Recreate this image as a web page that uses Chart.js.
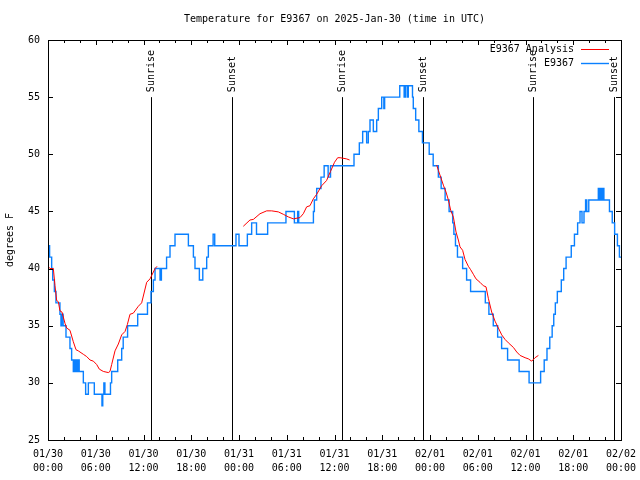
<!DOCTYPE html>
<html>
<head>
<meta charset="utf-8">
<title>Temperature for E9367</title>
<script src="https://cdn.jsdelivr.net/npm/chart.js@4/dist/chart.umd.min.js"></script>
<style>
  html, body { margin: 0; padding: 0; background: #fff; }
  canvas { display: block; }
</style>
</head>
<body>
<canvas id="tempChart" width="640" height="480"></canvas>
<script>
const titleText = "Temperature for E9367 on 2025-Jan-30 (time in UTC)";

// x labels, one per 6 hours (hours since 01/30 00:00 UTC)
const tickDates = ["01/30", "01/30", "01/30", "01/30", "01/31", "01/31", "01/31", "01/31", "02/01", "02/01", "02/01", "02/01", "02/02"];
const tickTimes = ["00:00", "06:00", "12:00", "18:00", "00:00", "06:00", "12:00", "18:00", "00:00", "06:00", "12:00", "18:00", "00:00"];

// station obs: hour where the reading changes, and the new reading (F)
const obsHours = [
  0.00, 0.20, 0.46, 0.59, 0.80, 1.00, 1.50, 1.63, 1.72, 1.90, 2.26, 2.76, 2.97, 3.18, 3.30, 3.42,
  3.55, 3.68, 3.80, 3.92, 4.44, 4.73, 5.07, 5.82, 6.78, 6.88, 7.02, 7.15, 7.85, 8.00, 8.76, 9.26,
  9.45, 10.00, 11.27, 12.50, 12.94, 13.24, 13.45, 14.08, 14.25, 14.90, 15.33, 15.96, 17.64, 18.27,
  18.47, 19.02, 19.45, 19.94, 20.15, 20.75, 20.95, 23.62, 24.00, 25.05, 25.59, 26.20, 27.60, 29.90,
  30.96, 31.37, 31.50, 33.35, 33.47, 33.76, 34.30, 34.70, 35.20, 35.50, 38.45, 39.12, 39.54, 40.04,
  40.25, 40.46, 40.88, 41.30, 41.51, 41.93, 42.20, 42.30, 44.20, 44.75, 44.92, 45.15, 45.27, 45.80,
  45.90, 46.20, 46.60, 47.05, 47.90, 48.40, 49.05, 49.40, 49.90, 50.40, 50.85, 51.00, 51.20, 51.45,
  52.10, 52.60, 53.10, 54.95, 55.40, 55.95, 56.50, 57.00, 57.75, 59.20, 60.45, 61.90, 62.35, 62.70,
  63.05, 63.35, 63.55, 63.75, 64.00, 64.50, 64.80, 65.10, 65.75, 66.15, 66.55, 66.85, 67.10, 67.35,
  67.55, 67.70, 67.95, 69.15, 69.28, 69.45, 69.58, 69.68, 69.85, 70.55, 70.90, 71.20, 71.55, 71.80,
  72.00
];
const obsTemps = [
  42, 41, 40, 39, 38, 37, 36, 35, 36, 35, 34, 33, 32, 31, 32, 31,
  32, 31, 32, 31, 30, 29, 30, 29, 28, 29, 30, 29, 30, 31, 32, 33,
  34, 35, 36, 37, 38, 39, 40, 39, 40, 41, 42, 43, 42, 41,
  40, 39, 40, 41, 42, 43, 42, 43, 42, 43, 44, 43, 44, 45,
  44, 45, 44, 45, 46, 47, 48, 49, 48, 49, 50, 51, 52, 51,
  52, 53, 52, 53, 54, 55, 54, 55, 56, 55, 56, 55, 56, 55,
  54, 53, 52, 51, 50, 49, 48, 47, 46, 45, 44, 43, 42, 41,
  40, 39, 38, 37, 36, 35, 34, 33, 32, 31, 30, 31, 32, 33,
  34, 35, 36, 37, 38, 39, 40, 41, 42, 43, 44, 45, 44, 45,
  46, 45, 46, 47, 46, 47, 46, 47, 46, 45, 44, 43, 42, 41,
  41
];

// analysis series, null = no analysis (gap)
const anaHours = [
  0.00, 0.25, 0.67, 0.88, 1.09, 1.30, 1.50, 1.75, 2.14, 2.35, 2.76, 3.18, 3.52, 3.80, 4.44, 4.86,
  5.28, 5.70, 6.12, 6.45, 6.95, 7.58, 7.79, 8.00, 8.42, 8.84, 9.26, 9.68, 9.97, 10.30, 10.72, 11.35,
  11.77, 11.98, 12.40, 12.82, 13.03, 13.45, 13.70,
  19.00,
  24.54, 25.00, 25.38, 25.80, 26.64, 27.48, 28.10, 28.94, 29.57, 30.20, 30.83, 31.66, 32.08, 32.50,
  32.92, 33.34, 33.76, 34.39, 35.00, 35.50, 36.00, 36.40, 36.70, 37.50, 37.90,
  43.00,
  48.84, 49.05, 49.34, 49.68, 50.01, 50.31, 50.60, 50.94, 51.27, 51.56, 51.77, 52.10, 52.40, 52.82,
  53.11, 53.45, 53.78, 54.28, 54.70, 55.04, 55.33, 55.75, 56.17, 56.59, 57.01, 57.43, 57.85, 58.48,
  58.90, 59.32, 59.95, 60.36, 60.78, 61.20, 61.62
];
const anaTemps = [
  40.2, 40.0, 40.0, 38.5, 37.2, 37.1, 36.3, 36.2, 35.2, 34.8, 34.6, 33.6, 32.9, 32.8, 32.5, 32.3,
  32.0, 31.9, 31.6, 31.2, 31.0, 30.9, 31.0, 31.6, 32.8, 33.4, 34.2, 34.5, 35.1, 36.0, 36.1, 36.7,
  37.0, 37.6, 38.8, 39.1, 39.4, 40.0, 40.2,
  null,
  43.7, 44.0, 44.25, 44.3, 44.8, 45.05, 45.05, 44.96, 44.75, 44.52, 44.35, 44.46, 44.8, 45.4,
  45.5, 46.1, 46.5, 47.25, 47.7, 48.5, 49.3, 49.7, 49.7, 49.6, 49.5,
  null,
  49.06, 48.6, 48.0, 47.3, 46.7, 46.0, 45.1, 44.5, 43.2, 42.5, 41.9, 41.6, 40.8, 40.2,
  39.9, 39.5, 39.1, 38.8, 38.5, 38.4, 37.4, 36.2, 35.4, 34.8, 34.2, 33.8, 33.5, 33.1,
  32.7, 32.4, 32.2, 32.1, 31.9, 32.2, 32.4
];

// sunrise / sunset markers
const eventNames = ["Sunrise", "Sunset", "Sunrise", "Sunset", "Sunrise", "Sunset"];
const eventHours = [12.98, 23.08, 37.0, 47.15, 60.98, 71.17];

const FONT = '"DejaVu Sans Mono", "Liberation Mono", monospace';
const font10 = { family: FONT, size: 10, lineHeight: 1.4 };

// gnuplot style frame, ticks, markers, title and key
const gnuplotLook = {
  id: "gnuplotLook",
  beforeDraw(chart) {
    const ctx = chart.ctx;
    ctx.save();
    ctx.fillStyle = "#fff";
    ctx.fillRect(0, 0, chart.width, chart.height);
    ctx.restore();
  },
  beforeDatasetsDraw(chart) {
    const { ctx, chartArea, scales } = chart;
    ctx.save();
    ctx.strokeStyle = "#000";
    ctx.lineWidth = 1;
    ctx.fillStyle = "#000";
    ctx.font = "10px " + FONT;
    eventHours.forEach((h, i) => {
      const x = Math.round(scales.x.getPixelForValue(h)) + 0.5;
      const yTop = scales.y.getPixelForValue(55);
      ctx.beginPath();
      ctx.moveTo(x, chartArea.bottom);
      ctx.lineTo(x, yTop);
      ctx.stroke();
      ctx.save();
      ctx.translate(x, yTop - 5);
      ctx.rotate(-Math.PI / 2);
      ctx.textAlign = "left";
      ctx.textBaseline = "middle";
      ctx.fillText(eventNames[i], 0, 0);
      ctx.restore();
    });
    ctx.restore();
  },
  afterDraw(chart) {
    const { ctx, chartArea, scales } = chart;
    const { left, right, top, bottom } = chartArea;
    ctx.save();
    ctx.strokeStyle = "#000";
    ctx.lineWidth = 1;
    ctx.strokeRect(left + 0.5, top + 0.5, right - left, bottom - top);

    // inward ticks, minor every 2 h, major every 6 h
    ctx.beginPath();
    for (let h = 0; h <= 72; h += 2) {
      const x = Math.round(scales.x.getPixelForValue(h)) + 0.5;
      const len = h % 6 === 0 ? 5 : 3;
      ctx.moveTo(x, bottom);
      ctx.lineTo(x, bottom - len);
      ctx.moveTo(x, top);
      ctx.lineTo(x, top + len);
    }
    for (let v = 25; v <= 60; v += 5) {
      const y = Math.round(scales.y.getPixelForValue(v)) + 0.5;
      ctx.moveTo(left, y);
      ctx.lineTo(left + 5, y);
      ctx.moveTo(right, y);
      ctx.lineTo(right - 5, y);
    }
    ctx.stroke();

    ctx.fillStyle = "#000";
    ctx.font = "10px " + FONT;
    ctx.textAlign = "center";
    ctx.textBaseline = "middle";
    ctx.fillText(titleText, (left + right) / 2, 19);

    // key: text then line sample, top right
    ctx.textAlign = "right";
    chart.data.datasets.forEach((ds, i) => {
      const y = 49 + i * 14;
      ctx.fillStyle = "#000";
      ctx.fillText(ds.label, 574, y);
      ctx.strokeStyle = ds.borderColor;
      ctx.lineWidth = ds.borderWidth;
      ctx.beginPath();
      ctx.moveTo(581, Math.round(y) + 0.5);
      ctx.lineTo(609, Math.round(y) + 0.5);
      ctx.stroke();
    });
    ctx.restore();
  }
};

const ctx = document.querySelector("#tempChart").getContext("2d");
new Chart(ctx, {
  type: "line",
  data: {
    datasets: [
      {
        label: "E9367 Analysis",
        data: anaHours.map((h, i) => ({ x: h, y: anaTemps[i] })),
        borderColor: "#ff0000",
        borderWidth: 1,
        pointRadius: 0,
        spanGaps: false,
        tension: 0
      },
      {
        label: "E9367",
        data: obsHours.map((h, i) => ({ x: h, y: obsTemps[i] })),
        borderColor: "#0a80ff",
        borderWidth: 1.4,
        pointRadius: 0,
        stepped: "before"
      }
    ]
  },
  options: {
    responsive: false,
    animation: false,
    layout: { padding: { top: 40, right: 19, left: 0, bottom: 0 } },
    plugins: {
      legend: { display: false },
      tooltip: { enabled: false },
      title: { display: false }
    },
    scales: {
      x: {
        type: "linear",
        min: 0,
        max: 72,
        grid: { display: false, drawTicks: false },
        border: { display: false },
        ticks: {
          stepSize: 6,
          autoSkip: false,
          maxRotation: 0,
          padding: 7,
          color: "#000",
          font: font10,
          callback: (value) => [tickDates[value / 6], tickTimes[value / 6]]
        },
        afterFit: (scale) => {
          scale.height = 40;
          scale.paddingLeft = 0;
          scale.paddingRight = 0;
        }
      },
      y: {
        min: 25,
        max: 60,
        grid: { display: false, drawTicks: false },
        border: { display: false },
        ticks: { stepSize: 5, padding: 8, color: "#000", font: { family: FONT, size: 10 } },
        title: {
          display: true,
          text: "degrees F",
          color: "#000",
          font: { family: FONT, size: 10 },
          padding: { top: 4, bottom: 0 }
        },
        afterFit: (scale) => { scale.width = 48; }
      }
    }
  },
  plugins: [gnuplotLook]
});
</script>
</body>
</html>
